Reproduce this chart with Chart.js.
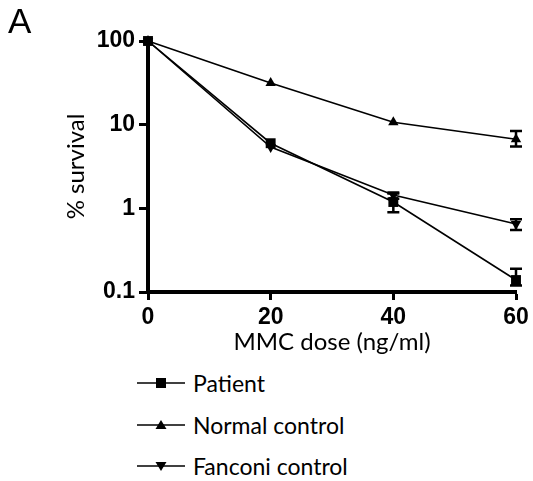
<!DOCTYPE html>
<html>
<head>
<meta charset="utf-8">
<script src="https://cdn.jsdelivr.net/npm/chart.js@4.4.0/dist/chart.umd.min.js"></script>
<style>
  body { margin: 0; background: #fff; }
  #wrap { position: relative; width: 533px; height: 481px; }
  #chartBox { position: absolute; left: 0; top: 0; width: 533px; height: 360px; }
  #panel { position: absolute; left: 8px; top: 1px; font: 35px "Liberation Sans", Arial, sans-serif; color: #000; }
  .leg { position: absolute; left: 137px; height: 30px; display: flex; align-items: center;
         font: 23px Lato, sans-serif; color: #000; }
  .leg svg { margin-right: 8px; }
</style>
</head>
<body>
<div id="wrap">
  <div id="chartBox"><canvas id="myChart"></canvas></div>
  <div id="panel">A</div>
  <div id="legend"></div>
</div>
<script>
// data
var doses = [0, 20, 40, 60];
var patient = [100, 6.0, 1.19, 0.139];
var normal = [100, 31.4, 10.7, 6.7];
var fanconi = [100, 5.4, 1.44, 0.65];

// error bars (null = hidden behind the marker)
var patientHi = [null, null, 1.5, 0.19];
var patientLo = [null, null, 0.9, 0.12];
var normalHi = [null, null, null, 8.4];
var normalLo = [null, null, null, 5.5];
var fanconiHi = [null, null, 1.55, 0.74];
var fanconiLo = [null, null, 1.3, 0.55];

var yTicks = [0.1, 1, 10, 100];
var xTicks = [0, 20, 40, 60];

function pts(vals) {
    return doses.map(function (d, i) { return { x: d, y: vals[i] }; });
}

// error bar plugin
const errorBars = {
    id: 'errorBars',
    afterDatasetsDraw(chart) {
        const ctx = chart.ctx;
        const xs = chart.scales.x, ys = chart.scales.y;
        chart.data.datasets.forEach(function (ds) {
            if (!ds.hi) return;
            ctx.save();
            ctx.strokeStyle = '#000';
            ctx.lineWidth = 2.5;
            doses.forEach(function (d, i) {
                if (ds.hi[i] == null) return;
                const x = xs.getPixelForValue(d);
                const y1 = ys.getPixelForValue(ds.hi[i]);
                const y2 = ys.getPixelForValue(ds.lo[i]);
                ctx.beginPath();
                ctx.moveTo(x, y1); ctx.lineTo(x, y2);
                ctx.moveTo(x - 6, y1); ctx.lineTo(x + 6, y1);
                ctx.moveTo(x - 6, y2); ctx.lineTo(x + 6, y2);
                ctx.stroke();
            });
            ctx.restore();
        });
    }
};

function line(label, vals, style, rot, radius, hi, lo) {
    return {
        label: label,
        data: pts(vals),
        borderColor: '#000',
        backgroundColor: '#000',
        borderWidth: 1.6,
        pointStyle: style,
        rotation: rot,
        pointRadius: radius,
        pointBorderWidth: 0,
        clip: false,
        hi: hi,
        lo: lo
    };
}

const data = {
    datasets: [
        line('Patient', patient, 'rect', 0, 7, patientHi, patientLo),
        line('Normal control', normal, 'triangle', 0, 6, normalHi, normalLo),
        line('Fanconi control', fanconi, 'triangle', 180, 6, fanconiHi, fanconiLo)
    ]
};

const config = {
    type: 'line',
    data: data,
    plugins: [errorBars],
    options: {
        responsive: true,
        maintainAspectRatio: false,
        animation: false,
        layout: { padding: { top: 41, right: 17, bottom: 0, left: 0 } },
        plugins: { legend: { display: false }, tooltip: { enabled: false } },
        scales: {
            x: {
                type: 'linear',
                min: 0, max: 60,
                afterBuildTicks: function (s) { s.ticks = xTicks.map(function (v) { return { value: v }; }); },
                afterFit: function (s) { s.height = 68; },
                grid: { drawOnChartArea: false, tickLength: 8, tickWidth: 3, tickColor: '#000' },
                border: { width: 4, color: '#000' },
                ticks: { color: '#000', padding: 4, maxRotation: 0,
                         font: { family: '"Liberation Sans", Arial, sans-serif', size: 23, weight: 'bold' } },
                title: { display: true, text: 'MMC dose (ng/ml)', color: '#000',
                         padding: { top: 0, bottom: 3 },
                         font: { family: 'Lato, sans-serif', size: 24 } }
            },
            y: {
                type: 'logarithmic',
                min: 0.1, max: 100,
                afterBuildTicks: function (s) { s.ticks = yTicks.map(function (v) { return { value: v }; }); },
                afterFit: function (s) { s.width = 148; },
                grid: { drawOnChartArea: false, tickLength: 9, tickWidth: 3, tickColor: '#000' },
                border: { width: 4, color: '#000' },
                ticks: { color: '#000', padding: 4,
                         callback: function (v) { return String(v); },
                         font: { family: '"Liberation Sans", Arial, sans-serif', size: 23, weight: 'bold' } },
                title: { display: true, text: '% survival', color: '#000',
                         padding: { top: 62, bottom: 0 },
                         font: { family: 'Lato, sans-serif', size: 24 } }
            }
        }
    }
};

const myChart = new Chart(document.getElementById('myChart'), config);

// legend below the plot
var legTops = [368, 410, 451];
var legMarks = ['<rect x="19" y="8" width="10" height="10"/>',
                '<polygon points="24,8 29.5,17 18.5,17"/>',
                '<polygon points="24,18 29.5,9 18.5,9"/>'];
var legBox = document.getElementById('legend');
data.datasets.forEach(function (ds, i) {
    var d = document.createElement('div');
    d.className = 'leg';
    d.style.top = legTops[i] + 'px';
    d.innerHTML = '<svg width="48" height="26"><line x1="0" y1="13" x2="48" y2="13" stroke="#000" stroke-width="1.6"/>' +
        legMarks[i] + '</svg><span>' + ds.label + '</span>';
    legBox.appendChild(d);
});
</script>
</body>
</html>
